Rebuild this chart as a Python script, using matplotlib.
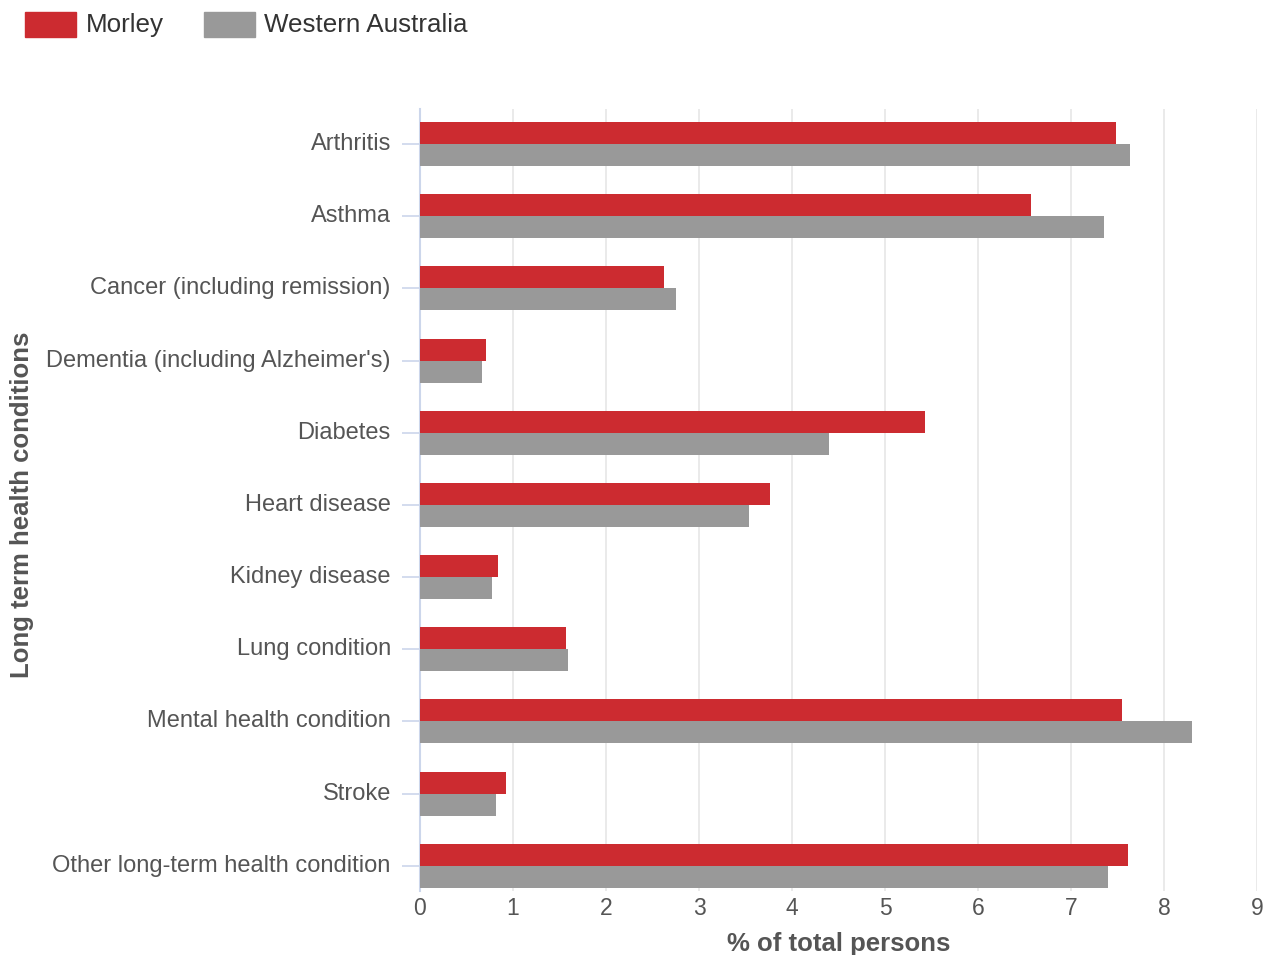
import matplotlib
matplotlib.use("Agg")
import matplotlib.pyplot as plt
import numpy as np
from matplotlib.patches import Rectangle

plt.rcParams['font.family'] = ['Liberation Sans', 'DejaVu Sans']

categories = ["Arthritis", "Asthma", "Cancer (including remission)",
              "Dementia (including Alzheimer's)", "Diabetes", "Heart disease",
              "Kidney disease", "Lung condition", "Mental health condition",
              "Stroke", "Other long-term health condition"]
morley = [7.48, 6.57, 2.62, 0.71, 5.43, 3.76, 0.84, 1.57, 7.55, 0.92, 7.61]
western_australia = [7.63, 7.35, 2.75, 0.67, 4.40, 3.54, 0.77, 1.59, 8.30, 0.82, 7.40]
series_names = ["Morley", "Western Australia"]
x_ticks = list(range(0, 10))

RED = "#cc2b30"
GREY = "#999999"
TXT = "#555555"

W, H = 1266, 955
fig = plt.figure(figsize=(W / 100, H / 100), dpi=100)
ax = fig.add_axes([420 / W, 1 - 891 / H, 837 / W, 782 / H])

y = np.arange(len(categories))
bh = 0.305
ax.barh(y - bh / 2, morley, height=bh, color=RED, zorder=3)
ax.barh(y + bh / 2, western_australia, height=bh, color=GREY, zorder=3)

ax.set_ylim(10.35, -0.485)
ax.set_xlim(0, 9)
ax.set_yticks(y)
ax.set_yticklabels(categories, fontsize=17, color=TXT, va="center")
ax.set_xticks(x_ticks)
ax.set_xticklabels([str(t) for t in x_ticks], fontsize=16.5, color=TXT)
ax.tick_params(axis='y', length=13, width=1.2, color="#ccd6eb", pad=8)
ax.tick_params(axis='x', length=0, pad=4)
ax.grid(axis='x', color="#e6e6e6", linewidth=1.2, zorder=0)
for s in ["top", "right", "bottom"]:
    ax.spines[s].set_visible(False)
ax.spines["left"].set_color("#ccd6eb")
ax.spines["left"].set_linewidth(1.5)

ax.set_xlabel("% of total persons", fontsize=18.5, fontweight="bold", color=TXT, labelpad=9)
fig.text(22 / W, 1 - 505 / H, "Long term health conditions", rotation=90,
         fontsize=18.5, fontweight="bold", color=TXT, ha="center", va="center")

# legend
for (x0, x1, tx), name, col in zip([(25, 76, 86), (204, 255, 264)], series_names, [RED, GREY]):
    fig.patches.append(Rectangle((x0 / W, 1 - 37 / H), (x1 - x0) / W, 25 / H,
                                 transform=fig.transFigure, color=col))
    fig.text(tx / W, 1 - 25 / H, name, fontsize=18.7, color="#333333", va="center", ha="left")

fig.savefig("out.png", dpi=100)
